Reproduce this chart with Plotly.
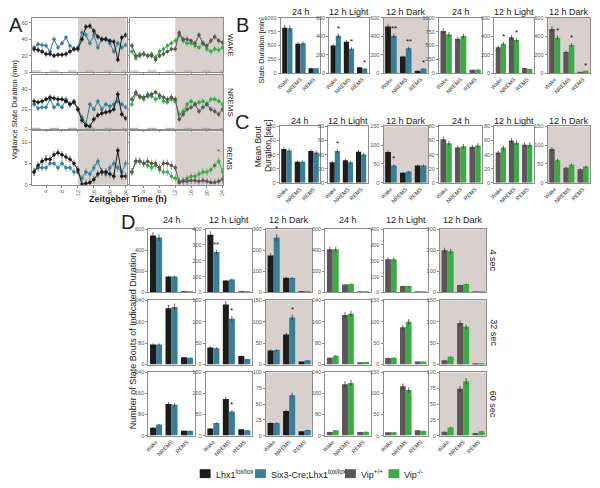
import plotly.graph_objects as go

W, H = 600, 488

BLACK = '#1c1c1c'
BLUE = '#3a7d96'
GREY = '#5c5757'
GREEN = '#3caa47'
SHADE = '#d7d0cd'
FRAME = '#8c8c8c'
FONT = 'Liberation Sans, Arial, sans-serif'

HOURS = list(range(1, 25))
STATES = ['Wake', 'NREMS', 'REMS']

# ---------------- Panel A: hourly state duration (min) ----------------
A_WAKE_LHX = [28, 27, 25, 22, 22, 20, 21, 21, 22, 25, 28, 28, 40, 55, 56, 50, 43, 40, 40, 38, 37, 15, 42, 45]
A_WAKE_SIX = [30, 34, 33, 32, 25, 40, 30, 35, 42, 32, 28, 30, 48, 45, 35, 45, 30, 40, 40, 35, 25, 35, 30, 33]
A_WAKE_WT = [32, 20, 20, 22, 20, 20, 15, 20, 22, 25, 28, 28, 48, 40, 40, 38, 35, 45, 35, 32, 38, 43, 38, 36]
A_WAKE_KO = [25, 17, 22, 22, 20, 22, 18, 25, 28, 32, 35, 38, 45, 38, 35, 35, 32, 30, 35, 28, 25, 28, 27, 30]

A_NREM_LHX = [28, 27, 28, 30, 32, 31, 30, 30, 28, 25, 27, 20, 9, 4, 3, 10, 14, 16, 17, 18, 20, 35, 15, 11]
A_NREM_SIX = [25, 21, 22, 22, 30, 22, 25, 22, 30, 25, 28, 20, 12, 5, 25, 20, 28, 20, 25, 23, 25, 28, 25, 22]
A_NREM_WT = [30, 37, 33, 32, 33, 35, 37, 34, 32, 30, 32, 30, 10, 15, 20, 22, 25, 18, 22, 25, 20, 18, 15, 20]
A_NREM_KO = [25, 35, 32, 30, 35, 33, 30, 32, 28, 27, 30, 28, 15, 18, 25, 28, 25, 27, 28, 25, 30, 30, 28, 25]

A_REM_LHX = [3, 4.5, 5.5, 6, 6, 7, 7.5, 7, 6.5, 6, 5, 3.5, 0.1, 0.3, 0.5, 1.2, 2.5, 3, 3, 2.5, 2, 8, 2, 2]
A_REM_SIX = [3, 4, 4, 4, 5, 5, 4, 5, 4, 4, 3, 3, 1.5, 3, 2.5, 4, 5.5, 3, 2.5, 4, 5, 4, 3, 5]
A_REM_WT = [3, 5.5, 5.5, 5, 5.5, 5, 5, 4, 5, 5, 4.5, 4, 0.5, 0.8, 0.8, 1, 1, 0.8, 1, 0.8, 0.5, 0.5, 0.8, 1.3]
A_REM_KO = [3, 5.5, 5.5, 5, 4.5, 4, 4.5, 3.5, 3, 3, 2, 1.5, 0.8, 1, 1.5, 2, 2, 2.5, 3, 3, 3.5, 4.5, 5.5, 3]

A_ERR = {'WAKE': 3.5, 'NREMS': 3, 'REMS': 0.9}

# ---------------- Panel B: state duration (min) ----------------
B_LHX_24 = [820, 530, 90]; B_SIX_24 = [810, 540, 90]
B_LHX_L = [300, 340, 65]; B_SIX_L = [405, 265, 50]
B_LHX_D = [505, 180, 25]; B_SIX_D = [405, 270, 50]
B_WT_24 = [760, 620, 60]; B_KO_24 = [700, 670, 65]
B_WT_L = [280, 390, 55]; B_KO_L = [320, 360, 45]
B_WT_D = [480, 230, 10]; B_KO_D = [385, 305, 25]

# ---------------- Panel C: mean bout duration (sec) ----------------
C_LHX_24 = [48, 30, 45]; C_SIX_24 = [46, 30, 43]
C_LHX_L = [29, 32, 44]; C_SIX_L = [45, 29, 40]
C_LHX_D = [82, 27, 46]; C_SIX_D = [46, 30, 46]
C_WT_24 = [62, 50, 51]; C_KO_24 = [56, 52, 53]
C_WT_L = [43, 60, 54]; C_KO_L = [50, 57, 54]
C_WT_D = [90, 40, 36]; C_KO_D = [60, 48, 43]

# ---------------- Panel D: number of bouts ----------------
D4_LHX_24 = [540, 150, 5]; D4_SIX_24 = [520, 150, 5]
D4_LHX_L = [365, 75, 3]; D4_SIX_L = [255, 82, 3]
D4_LHX_D = [175, 70, 2]; D4_SIX_D = [260, 68, 3]
D4_WT_24 = [410, 75, 3]; D4_KO_24 = [410, 80, 3]
D4_WT_L = [210, 40, 2]; D4_KO_L = [210, 40, 2]
D4_WT_D = [200, 35, 2]; D4_KO_D = [195, 40, 2]

D32_LHX_24 = [75, 210, 27]; D32_SIX_24 = [75, 215, 25]
D32_LHX_L = [40, 140, 20]; D32_SIX_L = [38, 107, 13]
D32_LHX_D = [33, 70, 7]; D32_SIX_D = [34, 110, 10]
D32_WT_24 = [25, 185, 8]; D32_KO_24 = [33, 190, 9]
D32_WT_L = [15, 87, 7]; D32_KO_L = [16, 100, 7]
D32_WT_D = [10, 97, 2]; D32_KO_D = [18, 88, 3]

D60_LHX_24 = [30, 120, 18]; D60_SIX_24 = [42, 117, 18]
D60_LHX_L = [17, 87, 15]; D60_SIX_L = [30, 57, 13]
D60_LHX_D = [20, 39, 7]; D60_SIX_D = [20, 64, 9]
D60_WT_24 = [14, 195, 14]; D60_KO_24 = [20, 200, 15]
D60_WT_L = [8, 117, 13]; D60_KO_L = [8, 108, 11]
D60_WT_D = [6, 74, 4]; D60_KO_D = [13, 86, 7]

fig = go.Figure()
layout = {}
annotations = []
shapes = []
count = [0]


def px2x(p):
    return p / W


def px2y(p):
    return 1 - p / H


def fx(a, b):
    return [px2x(a), px2x(b)]


def fy(top, bottom):
    return [px2y(bottom), px2y(top)]


def new_axes(px, py, xopts, yopts):
    count[0] += 1
    i = count[0]
    sfx = '' if i == 1 else str(i)
    base = dict(showline=True, mirror=True, linecolor=FRAME, linewidth=1,
                showgrid=False, zeroline=False, ticks='outside', ticklen=2,
                tickcolor=FRAME, tickfont=dict(size=5.5, color='#555', family=FONT))
    xa = dict(base, domain=fx(*px), anchor='y' + sfx)
    xa.update(xopts)
    ya = dict(base, domain=fy(*py), anchor='x' + sfx)
    ya.update(yopts)
    layout['xaxis' + sfx] = xa
    layout['yaxis' + sfx] = ya
    return 'x' + sfx, 'y' + sfx


def shade_rect(xr, yr, x0=None, x1=None):
    if x0 is None:
        shapes.append(dict(type='rect', xref=xr + ' domain', yref=yr + ' domain', x0=0, x1=1, y0=0, y1=1,
                           fillcolor=SHADE, line=dict(width=0), layer='below'))
    else:
        shapes.append(dict(type='rect', xref=xr, yref=yr + ' domain', x0=x0, x1=x1, y0=0, y1=1,
                           fillcolor=SHADE, line=dict(width=0), layer='below'))


def text(x, y, s, size=9, angle=0, xanchor='center', yanchor='middle', color='#222'):
    annotations.append(dict(x=px2x(x), y=px2y(y), xref='paper', yref='paper', text=s,
                            showarrow=False, textangle=angle, xanchor=xanchor, yanchor=yanchor,
                            font=dict(size=size, family=FONT, color=color)))


BARGAP = 0.22


def bar_panel(px, py, v1, v2, c1, c2, yrange, ticks, shade, xlabels, stars=(), title=None, title_y=None):
    xr, yr = new_axes(px, py,
                      dict(showticklabels=xlabels, tickangle=-45, ticklen=0, type='category',
                           tickfont=dict(size=5.5, color='#333', family=FONT)),
                      dict(range=yrange, tickvals=ticks))
    for vals, col in ((v1, c1), (v2, c2)):
        fig.add_trace(go.Bar(x=STATES, y=vals, xaxis=xr, yaxis=yr, marker=dict(color=col, line=dict(width=0)),
                             error_y=dict(type='percent', value=6, color='#222', thickness=0.7, width=0),
                             showlegend=False))
    if shade:
        shade_rect(xr, yr)
    wpx = (px[1] - px[0]) / 3.0 * (1 - BARGAP) / 2.0
    for cat, which, s in stars:
        vals = v1 if which == 0 else v2
        v = vals[STATES.index(cat)]
        annotations.append(dict(x=cat, y=v * 1.06, xref=xr, yref=yr, text=s, showarrow=False,
                                xshift=(-0.5 if which == 0 else 0.5) * wpx, yshift=-1, yanchor='bottom',
                                font=dict(size=8, family=FONT, color='#111')))
    if title:
        text((px[0] + px[1]) / 2, title_y, title, size=9)


# ---------------- Panel A layout ----------------
A_COLS = [(27, 123), (126, 221)]
A_ROWS = [(15, 70), (73, 128), (130, 184)]
A_YR = [[0, 66], [0, 54], [0, 12.5]]
A_YT = [[0, 20, 40, 60], [0, 20, 40], [0, 5, 10]]
A_SERIES = [
    ('WAKE', A_WAKE_LHX, A_WAKE_SIX, A_WAKE_WT, A_WAKE_KO),
    ('NREMS', A_NREM_LHX, A_NREM_SIX, A_NREM_WT, A_NREM_KO),
    ('REMS', A_REM_LHX, A_REM_SIX, A_REM_WT, A_REM_KO),
]
for r, (name, s1, s2, s3, s4) in enumerate(A_SERIES):
    for c in range(2):
        last = (r == 2)
        xr, yr = new_axes(A_COLS[c], A_ROWS[r],
                          dict(range=[0.4, 24.2], tickvals=[4, 8, 12, 16, 20, 24], showticklabels=last,
                               tickangle=-90, ticklen=2),
                          dict(range=A_YR[r], tickvals=A_YT[r], showticklabels=(c == 0)))
        shade_rect(xr, yr, 12, 24.2)
        pair = ((s1, BLACK), (s2, BLUE)) if c == 0 else ((s3, GREY), (s4, GREEN))
        for ser, col in reversed(pair):
            fig.add_trace(go.Scatter(x=HOURS, y=ser, xaxis=xr, yaxis=yr, mode='lines+markers',
                                     line=dict(color=col, width=1), marker=dict(color=col, size=3.5),
                                     error_y=dict(type='constant', value=A_ERR[name], color=col, thickness=0.6, width=0),
                                     showlegend=False))
        if r < 2:
            shapes.append(dict(type='line', xref=xr + ' domain', yref=yr + ' domain', x0=0, x1=1, y0=0.02, y1=0.02,
                               line=dict(color='#aaaaaa', width=1, dash='dash')))
    text(228, (A_ROWS[r][0] + A_ROWS[r][1]) / 2, name, size=8, angle=90)

# REMS asterisks in panel A (late dark phase, right column)
annotations.append(dict(x=23, y=A_REM_KO[22] + 1, xref='x6', yref='y6', text='*', showarrow=False, yanchor='bottom',
                        font=dict(size=7, family=FONT)))
annotations.append(dict(x=22, y=A_REM_WT[21] + 2.5, xref='x6', yref='y6', text='*', showarrow=False, yanchor='bottom',
                        font=dict(size=7, family=FONT)))

text(11, 22, 'A', size=20)
text(10, 108, 'Vigilance State Duration (min)', size=7.5, angle=-90)
text(124, 198, '<b>Zeitgeber Time (h)</b>', size=9)

# ---------------- Panel B ----------------
BC_COLS = [(279, 319), (328, 368), (383, 428), (439, 483), (495, 535), (549, 592)]
TITLES = ['24 h', '12 h Light', '12 h Dark'] * 2
B_ROW = (15, 71)
B_DATA = [(B_LHX_24, B_SIX_24), (B_LHX_L, B_SIX_L), (B_LHX_D, B_SIX_D),
          (B_WT_24, B_KO_24), (B_WT_L, B_KO_L), (B_WT_D, B_KO_D)]
B_STARS = [(), (('Wake', 1, '*'), ('NREMS', 1, '*'), ('REMS', 1, '*')),
           (('Wake', 1, '**'), ('NREMS', 1, '**'), ('REMS', 1, '*')),
           (), (('Wake', 1, '*'), ('NREMS', 1, '*')),
           (('Wake', 1, '*'), ('NREMS', 1, '*'), ('REMS', 1, '*'))]
for k in range(6):
    c1, c2 = (BLACK, BLUE) if k < 3 else (GREY, GREEN)
    big = (k % 3 == 0)
    bar_panel(BC_COLS[k], B_ROW, B_DATA[k][0], B_DATA[k][1], c1, c2,
              [0, 1000] if big else [0, 600],
              [0, 250, 500, 750, 1000] if big else [0, 200, 400, 600],
              k % 3 == 2, True, B_STARS[k], TITLES[k], 9)
text(240, 22, 'B', size=20)
text(259, 48, 'State Duration [min]', size=7.5, angle=-90)

# ---------------- Panel C ----------------
C_COLS = [(278, 319), (327, 367), (383, 428), (439, 483), (495, 535), (549, 592)]
C_ROW = (125, 182)
C_DATA = [(C_LHX_24, C_SIX_24), (C_LHX_L, C_SIX_L), (C_LHX_D, C_SIX_D),
          (C_WT_24, C_KO_24), (C_WT_L, C_KO_L), (C_WT_D, C_KO_D)]
C_STARS = [(), (('Wake', 1, '*'),), (('Wake', 1, '*'),), (), (), ()]
for k in range(6):
    c1, c2 = (BLACK, BLUE) if k < 3 else (GREY, GREEN)
    dark = (k % 3 == 2)
    bar_panel(C_COLS[k], C_ROW, C_DATA[k][0], C_DATA[k][1], c1, c2,
              [0, 150] if dark else [0, 80],
              [0, 50, 100, 150] if dark else [0, 20, 40, 60, 80],
              dark, True, C_STARS[k], TITLES[k], 119)
text(240, 120, 'C', size=20)
text(256, 145, 'Mean Bout', size=8.5, angle=-90)
text(266, 145, 'Duration [sec]', size=8.5, angle=-90)

# ---------------- Panel D ----------------
D_COLS = [(145, 192), (203, 250), (264, 311), (324, 370), (383, 428), (440, 487)]
D_ROWS = [(229, 293), (301, 366), (374, 438)]
D_DATA = [
    [(D4_LHX_24, D4_SIX_24), (D4_LHX_L, D4_SIX_L), (D4_LHX_D, D4_SIX_D),
     (D4_WT_24, D4_KO_24), (D4_WT_L, D4_KO_L), (D4_WT_D, D4_KO_D)],
    [(D32_LHX_24, D32_SIX_24), (D32_LHX_L, D32_SIX_L), (D32_LHX_D, D32_SIX_D),
     (D32_WT_24, D32_KO_24), (D32_WT_L, D32_KO_L), (D32_WT_D, D32_KO_D)],
    [(D60_LHX_24, D60_SIX_24), (D60_LHX_L, D60_SIX_L), (D60_LHX_D, D60_SIX_D),
     (D60_WT_24, D60_KO_24), (D60_WT_L, D60_KO_L), (D60_WT_D, D60_KO_D)],
]
D_RANGES = [
    [([0, 600], [0, 200, 400, 600]), ([0, 400], [0, 100, 200, 300, 400]), ([0, 300], [0, 100, 200, 300])],
    [([0, 240], [0, 80, 160, 240]), ([0, 150], [0, 50, 100, 150]), ([0, 150], [0, 50, 100, 150])],
    [([0, 240], [0, 80, 160, 240]), ([0, 150], [0, 50, 100, 150]), ([0, 100], [0, 25, 50, 75, 100])],
]
D_STARS = [
    [(), (('Wake', 1, '**'),), (('Wake', 1, '*'),), (), (), ()],
    [(), (('NREMS', 1, '*'),), (('NREMS', 1, '*'),), (), (), ()],
    [(), (('NREMS', 1, '*'),), (), (), (), ()],
]
D_LABELS = ['4 sec', '32 sec', '60 sec']
for r in range(3):
    for k in range(6):
        c1, c2 = (BLACK, BLUE) if k < 3 else (GREY, GREEN)
        yrng, yt = D_RANGES[r][k % 3]
        bar_panel(D_COLS[k], D_ROWS[r], D_DATA[r][k][0], D_DATA[r][k][1], c1, c2, yrng, yt,
                  k % 3 == 2, r == 2, D_STARS[r][k], TITLES[k] if r == 0 else None, 220)
    text(494, (D_ROWS[r][0] + D_ROWS[r][1]) / 2, D_LABELS[r], size=9, angle=90)
text(124, 222, 'D', size=20)
text(129, 342, 'Number of State Bouts of Indicated Duration', size=9, angle=-90)

# ---------------- Legend ----------------
LEG = [(197, BLACK, 'Lhx1<sup>lox/lox</sup>'), (253, BLUE, 'Six3-Cre;Lhx1<sup>lox/lox</sup>'),
       (344, GREY, 'Vip<sup>+/+</sup>'), (388, GREEN, 'Vip<sup>-/-</sup>')]
for x0, col, lab in LEG:
    shapes.append(dict(type='rect', xref='paper', yref='paper', x0=px2x(x0), x1=px2x(x0 + 11),
                       y0=px2y(481), y1=px2y(472), fillcolor=col, line=dict(width=0)))
    text(x0 + 14, 477, lab, size=9, xanchor='left')

fig.update_layout(**layout)
fig.update_layout(width=W, height=H, margin=dict(l=0, r=0, t=0, b=0),
                  paper_bgcolor='white', plot_bgcolor='white', barmode='group',
                  bargap=BARGAP, bargroupgap=0, showlegend=False,
                  annotations=annotations, shapes=shapes, font=dict(family=FONT))
fig.write_html('out.html', config={'displayModeBar': False},
               post_script="document.body.style.margin='0px';document.body.style.overflow='hidden';")
